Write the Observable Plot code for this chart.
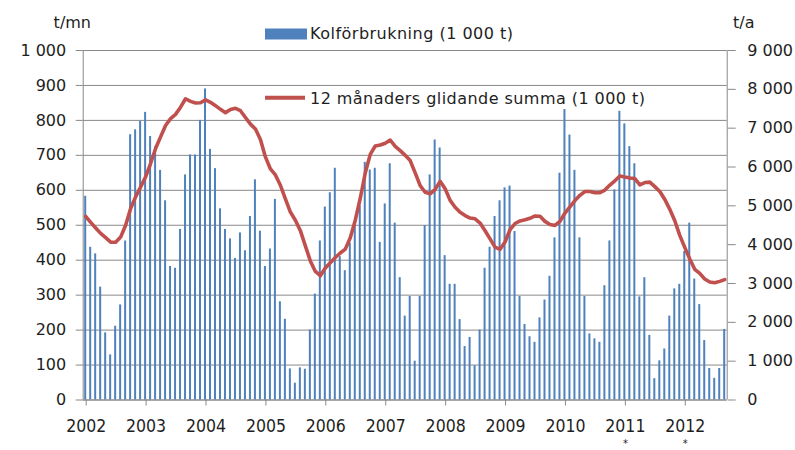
<!DOCTYPE html>
<html><head><meta charset="utf-8">
<script src="https://cdn.jsdelivr.net/npm/d3@7"></script>
<script src="https://cdn.jsdelivr.net/npm/@observablehq/plot@0.6"></script>
<style>
body{margin:0;background:#fff;}
#chart{position:relative;width:795px;height:450px;}
</style></head><body><div id="chart"></div>
<script>
// ---- data ----
const years = ["2002","2003","2004","2005","2006","2007","2008","2009","2010","2011","2012"];
const footnoteMarks = ["","","","","","","","","","*","*"];
const leftTicks = [0,100,200,300,400,500,600,700,800,900,1000];
const rightTicks = [0,1000,2000,3000,4000,5000,6000,7000,8000,9000];
const seriesBars = "Kolförbrukning (1 000 t)";
const seriesLine = "12 månaders glidande summa (1 000 t)";
const unitLeft = "t/mn";
const unitRight = "t/a";

// monthly coal consumption (left axis, t/mn)
const kol2002 = [583, 437, 418, 323, 192, 129, 211, 272, 455, 759, 773, 797];
const kol2003 = [823, 754, 725, 657, 570, 382, 377, 488, 644, 701, 701, 800];
const kol2004 = [890, 717, 662, 547, 488, 461, 405, 478, 427, 525, 630, 483];
const kol2005 = [382, 432, 574, 281, 231, 89, 48, 92, 88, 200, 303, 455];
const kol2006 = [552, 593, 663, 410, 370, 449, 505, 555, 680, 658, 663, 451];
const kol2007 = [561, 676, 506, 350, 240, 296, 111, 296, 499, 644, 744, 721];
const kol2008 = [413, 331, 331, 230, 153, 179, 98, 200, 377, 437, 525, 570];
const kol2009 = [607, 612, 482, 296, 216, 181, 165, 235, 286, 354, 464, 649];
const kol2010 = [831, 758, 657, 464, 296, 189, 175, 165, 327, 455, 601, 826];
const kol2011 = [790, 725, 676, 295, 350, 185, 61, 112, 146, 240, 318, 331];
const kol2012 = [425, 506, 346, 273, 170, 90, 62, 90, 202];

// 12-month moving sum (right axis, t/a)
const sum2002 = [4730, 4575, 4430, 4290, 4180, 4064, 4065, 4195, 4500, 4930, 5230, 5485];
const sum2003 = [5745, 6090, 6475, 6775, 7070, 7245, 7355, 7540, 7757, 7690, 7650, 7655];
const sum2004 = [7727, 7665, 7580, 7485, 7400, 7480, 7510, 7450, 7275, 7105, 6980, 6710];
const sum2005 = [6260, 5950, 5795, 5530, 5180, 4840, 4630, 4360, 3970, 3580, 3310, 3200];
const sum2006 = [3400, 3535, 3670, 3785, 3885, 4180, 4630, 5195, 5845, 6325, 6540, 6565];
const sum2007 = [6610, 6695, 6530, 6420, 6300, 6165, 5850, 5520, 5350, 5310, 5425, 5630];
const sum2008 = [5440, 5140, 4965, 4835, 4750, 4685, 4665, 4555, 4360, 4150, 3935, 3880];
const sum2009 = [4070, 4385, 4545, 4610, 4640, 4680, 4740, 4730, 4600, 4520, 4495, 4600];
const sum2010 = [4815, 4975, 5135, 5270, 5370, 5370, 5335, 5340, 5405, 5535, 5645, 5770];
const sum2011 = [5740, 5715, 5700, 5540, 5600, 5610, 5495, 5370, 5165, 4910, 4615, 4240];
const sum2012 = [3930, 3630, 3365, 3260, 3115, 3040, 3020, 3055, 3100];

// ---- build table ----
const kolByYear = [kol2002,kol2003,kol2004,kol2005,kol2006,kol2007,kol2008,kol2009,kol2010,kol2011,kol2012];
const sumByYear = [sum2002,sum2003,sum2004,sum2005,sum2006,sum2007,sum2008,sum2009,sum2010,sum2011,sum2012];
const monthly = [];
kolByYear.forEach((arr, k) => arr.forEach((v, m) => monthly.push({i: k*12+m, value: v, sum: sumByYear[k][m]})));
const N = monthly.length; // 129 months
const ratio = rightTicks[rightTicks.length-1] / leftTicks[leftTicks.length-1]; // 9

const fmt = d3.formatLocale({decimal: ",", thousands: " ", grouping: [3], currency: ["", ""]}).format(",");

const blue = "#4F81BD", red = "#C0504D", grid = "#898989", ink = "#1e1e1e";
const yearTicks = years.map((y, k) => k*12);
const markTicks = yearTicks.filter((d, k) => footnoteMarks[k]);
const condensed = "'DejaVu Sans Condensed', 'DejaVu Sans', sans-serif";

const chart = Plot.plot({
  width: 795, height: 450,
  marginLeft: 82.7, marginRight: 68.3, marginTop: 50, marginBottom: 50.5,
  style: {fontFamily: "'DejaVu Sans', sans-serif", fontSize: "16px", color: ink, background: "#fff"},
  x: {type: "linear", domain: [0, N]},
  y: {domain: [0, 1000]},
  marks: [
    Plot.gridY(leftTicks, {stroke: grid, strokeOpacity: 1}),
    Plot.rectY(monthly, {x1: d => d.i + 0.3, x2: d => d.i + 0.7, y: "value", fill: blue}),
    Plot.line(monthly, {x: d => d.i + 0.5, y: d => d.sum / ratio, stroke: red, strokeWidth: 3.6, strokeLinejoin: "round", strokeLinecap: "round"}),
    Plot.ruleX([0, N], {stroke: grid}),
    Plot.ruleY([0], {stroke: grid}),
    Plot.axisY(leftTicks, {anchor: "left", tickSize: 7, tickPadding: 10, tickFormat: fmt, label: null, stroke: grid, fill: ink, fontSize: 16}),
    Plot.axisY(rightTicks.map(d => d / ratio), {anchor: "right", tickSize: 8, tickPadding: 12, tickFormat: d => fmt(Math.round(d * ratio)), label: null, stroke: grid, fill: ink, fontSize: 16}),
    Plot.axisX(yearTicks, {anchor: "bottom", tickSize: 6, tickPadding: 13.5, tickFormat: d => years[d/12], label: null, stroke: grid, fill: ink, fontSize: 17.5, fontFamily: condensed, dx: 3}),
    Plot.axisX(markTicks, {anchor: "bottom", tickSize: 0, tickPadding: 39.3, tickFormat: d => footnoteMarks[d/12], label: null, fill: ink, fontSize: 11, fontFamily: condensed, dx: 3})
  ]
});
document.getElementById("chart").appendChild(chart);

// ---- legend and unit labels ----
const svg = d3.select(chart);
const g = svg.append("g").attr("font-family", "'DejaVu Sans', sans-serif").attr("fill", ink).attr("text-anchor", "start");
g.append("text").attr("x", 91).attr("y", 28).attr("text-anchor", "end").attr("font-size", 16).text(unitLeft);
g.append("text").attr("x", 733).attr("y", 28).attr("font-size", 16).text(unitRight);
g.append("rect").attr("x", 265).attr("y", 28.5).attr("width", 42).attr("height", 11).attr("fill", blue);
g.append("text").attr("x", 310).attr("y", 39).attr("font-size", 16).attr("textLength", 203).attr("lengthAdjust", "spacing").text(seriesBars);
g.append("line").attr("x1", 265).attr("x2", 305).attr("y1", 97.7).attr("y2", 97.7).attr("stroke", red).attr("stroke-width", 4);
g.append("text").attr("x", 310).attr("y", 104).attr("font-size", 16).attr("textLength", 335).attr("lengthAdjust", "spacing").text(seriesLine);
</script></body></html>
